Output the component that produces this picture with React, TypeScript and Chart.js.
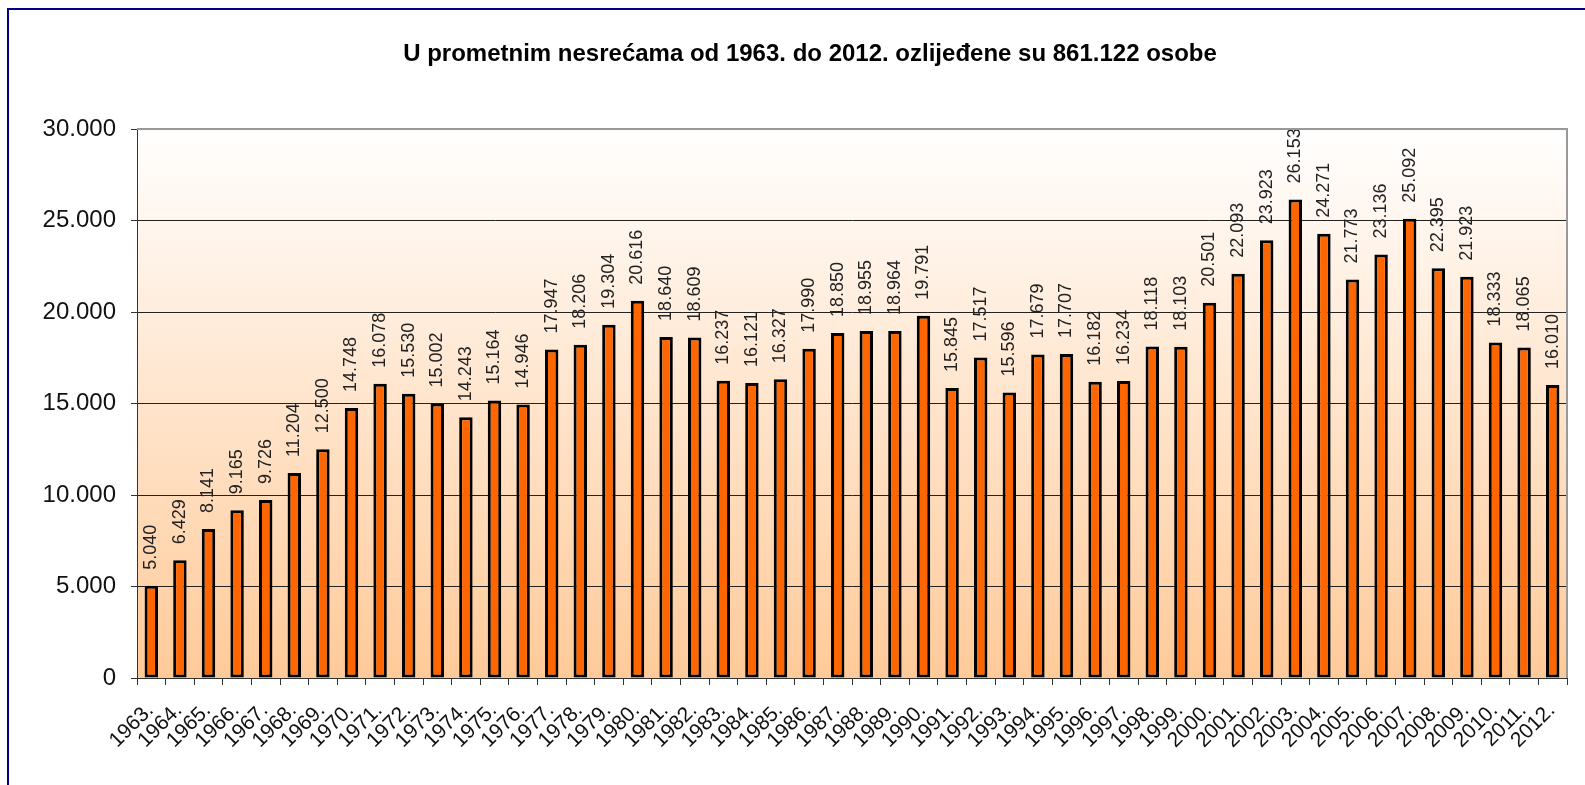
import React, { useEffect, useRef } from "react";
import { Chart, registerables } from "chart.js";

Chart.register(...registerables);

const TITLE = "U prometnim nesrećama od 1963. do 2012. ozlijeđene su 861.122 osobe";

const years: string[] = [
  "1963.", "1964.", "1965.", "1966.", "1967.", "1968.", "1969.", "1970.", "1971.", "1972.",
  "1973.", "1974.", "1975.", "1976.", "1977.", "1978.", "1979.", "1980.", "1981.", "1982.",
  "1983.", "1984.", "1985.", "1986.", "1987.", "1988.", "1989.", "1990.", "1991.", "1992.",
  "1993.", "1994.", "1995.", "1996.", "1997.", "1998.", "1999.", "2000.", "2001.", "2002.",
  "2003.", "2004.", "2005.", "2006.", "2007.", "2008.", "2009.", "2010.", "2011.", "2012.",
];

const injured: number[] = [
  5040, 6429, 8141, 9165, 9726, 11204, 12500, 14748, 16078, 15530,
  15002, 14243, 15164, 14946, 17947, 18206, 19304, 20616, 18640, 18609,
  16237, 16121, 16327, 17990, 18850, 18955, 18964, 19791, 15845, 17517,
  15596, 17679, 17707, 16182, 16234, 18118, 18103, 20501, 22093, 23923,
  26153, 24271, 21773, 23136, 25092, 22395, 21923, 18333, 18065, 16010,
];

const yMin = 0;
const yMax = 30000;
const yStep = 5000;

const fmt = (n: number) => String(Math.round(n)).replace(/\B(?=(\d{3})+(?!\d))/g, ".");

const FONT = "'Liberation Sans', Arial, sans-serif";

const framePlugin = {
  id: "framePlugin",
  beforeDraw(chart: any) {
    const { ctx, chartArea } = chart;
    const { left, top, right, bottom } = chartArea;
    ctx.save();
    ctx.fillStyle = "#ffffff";
    ctx.fillRect(0, 0, chart.width, chart.height);
    const g = ctx.createLinearGradient(0, top, 0, bottom);
    g.addColorStop(0, "#ffffff");
    g.addColorStop(1, "#ffca99");
    ctx.fillStyle = g;
    ctx.fillRect(left, top, right - left, bottom - top);
    ctx.restore();
  },
  afterDraw(chart: any) {
    const { ctx, chartArea } = chart;
    const { left, top, right, bottom } = chartArea;
    ctx.save();
    ctx.strokeStyle = "#999999";
    ctx.lineWidth = 2;
    ctx.beginPath();
    ctx.moveTo(left, top);
    ctx.lineTo(right, top);
    ctx.lineTo(right, bottom);
    ctx.stroke();
    ctx.strokeStyle = "#000080";
    ctx.lineWidth = 2;
    ctx.beginPath();
    ctx.moveTo(8, chart.height + 5);
    ctx.lineTo(8, 9);
    ctx.lineTo(chart.width + 5, 9);
    ctx.stroke();
    // title
    ctx.fillStyle = "#000000";
    ctx.font = `bold 24px ${FONT}`;
    ctx.textAlign = "center";
    ctx.textBaseline = "alphabetic";
    ctx.fillText(TITLE, 810, 61, 815);
    // x-axis category labels (rotated -45deg), placed at the scale's tick pixels
    const xs = chart.scales.x;
    ctx.fillStyle = "#111111";
    ctx.font = `21px ${FONT}`;
    ctx.textAlign = "right";
    ctx.textBaseline = "middle";
    years.forEach((lab, i) => {
      const px = xs.getPixelForTick(i);
      ctx.save();
      ctx.translate(px - 1, bottom + 29);
      ctx.rotate(-Math.PI / 4);
      ctx.fillText(lab, 0, 0);
      ctx.restore();
    });
    ctx.restore();
  },
  afterDatasetsDraw(chart: any) {
    const { ctx } = chart;
    const meta = chart.getDatasetMeta(0);
    const data = chart.data.datasets[0].data as number[];
    ctx.save();
    ctx.fillStyle = "#222222";
    ctx.font = `18px ${FONT}`;
    ctx.textAlign = "left";
    ctx.textBaseline = "middle";
    meta.data.forEach((bar: any, i: number) => {
      ctx.save();
      ctx.translate(bar.x, bar.y - 16);
      ctx.rotate(-Math.PI / 2);
      ctx.fillText(fmt(data[i]), 0, 0);
      ctx.restore();
    });
    ctx.restore();
  },
};

export default function App() {
  const ref = useRef<HTMLCanvasElement | null>(null);

  useEffect(() => {
    if (!ref.current) return;
    const chart = new Chart(ref.current, {
      type: "bar",
      data: {
        labels: years,
        datasets: [
          {
            data: injured,
            backgroundColor: "#ff6600",
            borderColor: "#000000",
            borderWidth: 3,
            borderSkipped: false,
            barPercentage: 0.47,
            categoryPercentage: 1,
          },
        ],
      },
      options: {
        responsive: false,
        animation: false,
        layout: { padding: { left: 0, top: 129, right: 18, bottom: 0 } },
        plugins: {
          legend: { display: false },
          title: { display: false },
          tooltip: { enabled: false },
        },
        scales: {
          x: {
            offset: true,
            grid: {
              offset: true,
              drawOnChartArea: false,
              drawTicks: true,
              tickLength: 7,
              color: "#333333",
              tickColor: "#333333",
            },
            border: { display: true, color: "#333333", width: 1 },
            ticks: {
              display: false,
              autoSkip: false,
            },
            afterFit: (scale: any) => {
              scale.height = 107;
            },
          },
          y: {
            min: yMin,
            max: yMax,
            grid: {
              color: "#222222",
              tickColor: "#333333",
              tickLength: 6,
              lineWidth: 1,
            },
            border: { display: true, color: "#333333", width: 1 },
            ticks: {
              stepSize: yStep,
              color: "#111111",
              padding: 15,
              font: { family: FONT, size: 24 },
              callback: (v: any) => fmt(Number(v)),
            },
            afterFit: (scale: any) => {
              scale.width = 137;
            },
          },
        },
      },
      plugins: [framePlugin],
    });
    return () => chart.destroy();
  }, []);

  return (
    <div style={{ position: "fixed", left: 0, top: 0, width: 1585, height: 785, background: "#fff" }}>
      <canvas ref={ref} width={1585} height={785} style={{ display: "block" }} />
    </div>
  );
}
